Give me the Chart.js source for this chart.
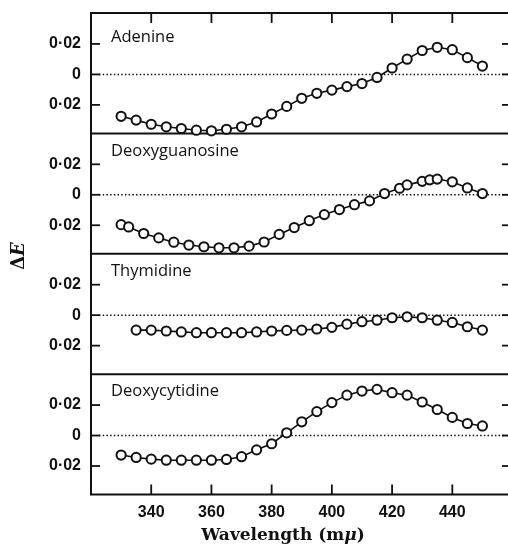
<!DOCTYPE html>
<html><head><meta charset="utf-8">
<script src="https://cdn.jsdelivr.net/npm/chart.js@4.4.1/dist/chart.umd.min.js"></script>
<style>html,body{margin:0;padding:0;background:#fff}#wrap{width:508px;height:550px;position:relative}</style>
</head><body><div id="wrap"><canvas id="c" width="508" height="550"></canvas></div>
<script>
const panelNames = ['Adenine', 'Deoxyguanosine', 'Thymidine', 'Deoxycytidine'];
const adenineX = [330,335,340,345,350,355,360,365,370,375,380,385,390,395,400,405,410,415,420,425,430,435,440,445,450];
const adenineY = [-0.0275,-0.030,-0.0327,-0.0344,-0.0355,-0.0366,-0.037,-0.036,-0.0344,-0.0312,-0.026,-0.021,-0.0157,-0.0124,-0.0103,-0.008,-0.006,-0.002,0.0042,0.010,0.0157,0.0178,0.0162,0.011,0.0055];
const dguanX = [330,332.5,337.5,342.5,347.5,352.5,357.5,362.5,367.5,372.5,377.5,382.5,387.5,392.5,397.5,402.5,407.5,412.5,417.5,422.5,425,430,432.5,435,440,445,450];
const dguanY = [-0.0196,-0.0211,-0.0254,-0.0283,-0.0311,-0.033,-0.0341,-0.0348,-0.0348,-0.0337,-0.031,-0.026,-0.0215,-0.017,-0.013,-0.0097,-0.0065,-0.004,0.0008,0.0043,0.0065,0.0088,0.0098,0.0103,0.0085,0.0045,0.0008];
const thymX = [335,340,345,350,355,360,365,370,375,380,385,390,395,400,405,410,415,420,425,430,435,440,445,450];
const thymY = [-0.0098,-0.0098,-0.0104,-0.011,-0.0115,-0.0115,-0.0115,-0.0115,-0.011,-0.0104,-0.010,-0.0098,-0.0091,-0.008,-0.0059,-0.0043,-0.0033,-0.0017,-0.0011,-0.0017,-0.0033,-0.0048,-0.0076,-0.0098];
const dcytX = [330,335,340,345,350,355,360,365,370,375,380,385,390,395,400,405,410,415,420,425,430,435,440,445,450];
const dcytY = [-0.0128,-0.0144,-0.0155,-0.0162,-0.0162,-0.0162,-0.0162,-0.0157,-0.0139,-0.0094,-0.0054,0.0018,0.009,0.0157,0.0216,0.0265,0.0292,0.0303,0.0281,0.0265,0.022,0.0171,0.0119,0.0079,0.0063];
const xTicks = [340, 360, 380, 400, 420, 440];
const yTicks = [-0.02, 0, 0.02];
const yTickLabels = ['0·02', '0', '0·02'];
const xTitleParts = ['Wavelength (m', 'μ', ')'];
const yTitleParts = ['Δ', 'E'];

const axisIds = ['yA', 'yG', 'yT', 'yC'];
const seriesX = [adenineX, dguanX, thymX, dcytX];
const seriesY = [adenineY, dguanY, thymY, dcytY];
const INK = '#111';

function yScale(i) {
  return {
    type: 'linear', position: 'left', stack: 'panels', stackWeight: 1, weight: 10 - i,
    min: -0.0387, max: 0.0403, offset: false,
    grid: { display: false, drawTicks: false },
    border: { display: false },
    ticks: {
      color: INK, padding: 10, font: { family: '"Liberation Sans", Arial, sans-serif', size: 16, weight: 'bold', lineHeight: 0.3 },
      callback: v => { const k = yTicks.indexOf(v); return k >= 0 ? yTickLabels[k] : ''; }
    },
    afterBuildTicks: s => { s.ticks = yTicks.map(v => ({ value: v })); },
    afterFit: s => { s.width = 91; }
  };
}

const scales = {
  x: {
    type: 'linear', position: 'bottom', min: 320, max: 458.5,
    grid: { display: false, drawTicks: false },
    border: { display: false },
    ticks: { color: INK, padding: 8, font: { family: '"Liberation Sans", Arial, sans-serif', size: 16, weight: 'bold' } },
    afterBuildTicks: s => { s.ticks = xTicks.map(v => ({ value: v })); },
    afterFit: s => { s.height = 55.5; },
    title: { display: false }
  }
};
axisIds.forEach((id, i) => { scales[id] = yScale(i); });

const datasets = axisIds.map((id, i) => ({
  label: panelNames[i],
  yAxisID: id,
  data: seriesX[i].map((x, j) => ({ x: x, y: seriesY[i][j] })),
  borderColor: INK, borderWidth: 1.6,
  pointRadius: 4.6, pointBorderWidth: 2, pointBackgroundColor: '#fff', pointBorderColor: INK,
  pointHoverRadius: 4.6, tension: 0, clip: false, fill: false
}));

const labelOffsets = [28.5, 22.5, 22, 21.5];

const deco = {
  id: 'deco',
  beforeDatasetsDraw(chart) {
    const { ctx, chartArea: ca, scales: sc } = chart;
    ctx.save();
    ctx.strokeStyle = INK;
    ctx.lineWidth = 1.5; ctx.setLineDash([1.5, 2.2]);
    axisIds.forEach(id => {
      const y = sc[id].getPixelForValue(0);
      ctx.beginPath(); ctx.moveTo(ca.left + 8, y); ctx.lineTo(ca.right, y); ctx.stroke();
    });
    ctx.setLineDash([]);
    ctx.lineWidth = 2;
    const tops = axisIds.map(id => sc[id].top);
    const bottoms = axisIds.map(id => sc[id].bottom);
    const ys = [...tops, Math.max(...bottoms)];
    ys.forEach(y => { ctx.beginPath(); ctx.moveTo(ca.left - 1, y); ctx.lineTo(ca.right, y); ctx.stroke(); });
    ctx.beginPath(); ctx.moveTo(ca.left, ca.top); ctx.lineTo(ca.left, ca.bottom); ctx.stroke();
    ctx.lineWidth = 1.8;
    axisIds.forEach(id => {
      yTicks.forEach(v => {
        const y = sc[id].getPixelForValue(v);
        ctx.beginPath(); ctx.moveTo(ca.left, y); ctx.lineTo(ca.left + 9, y); ctx.stroke();
        ctx.beginPath(); ctx.moveTo(ca.right - 6, y); ctx.lineTo(ca.right, y); ctx.stroke();
      });
    });
    xTicks.forEach(v => {
      const x = sc.x.getPixelForValue(v);
      ctx.beginPath(); ctx.moveTo(x, ca.top); ctx.lineTo(x, ca.top + 10); ctx.stroke();
      ctx.beginPath(); ctx.moveTo(x, ca.bottom); ctx.lineTo(x, ca.bottom - 10); ctx.stroke();
    });
    ctx.restore();
  },
  afterDraw(chart) {
    const { ctx, scales: sc } = chart;
    ctx.save();
    ctx.fillStyle = INK;
    ctx.textAlign = 'left'; ctx.textBaseline = 'alphabetic';
    ctx.font = '16.5px "Open Sans", sans-serif';
    axisIds.forEach((id, i) => {
      ctx.fillText(panelNames[i], 111, sc[id].top + labelOffsets[i]);
    });
    const fu = 'bold 17px "DejaVu Serif", serif';
    const fi = 'italic bold 17px "DejaVu Serif", serif';
    const fonts = [fu, fi, fu];
    const widths = xTitleParts.map((t, k) => { ctx.font = fonts[k]; return ctx.measureText(t).width; });
    const total = widths.reduce((a, b) => a + b, 0);
    let tx = 283 - total / 2;
    ctx.textBaseline = 'middle';
    xTitleParts.forEach((t, k) => { ctx.font = fonts[k]; ctx.fillText(t, tx, 536); tx += widths[k]; });
    ctx.translate(19, 256);
    ctx.rotate(-Math.PI / 2);
    const f1 = 'bold 18px "DejaVu Serif", serif';
    const f2 = 'italic bold 18px "DejaVu Serif", serif';
    ctx.font = f1; const w1 = ctx.measureText(yTitleParts[0]).width;
    ctx.font = f2; const w2 = ctx.measureText(yTitleParts[1]).width;
    const x0 = -(w1 + w2) / 2;
    ctx.font = f1; ctx.fillText(yTitleParts[0], x0, 0);
    ctx.font = f2; ctx.fillText(yTitleParts[1], x0 + w1, 0);
    ctx.restore();
  }
};

new Chart(document.getElementById('c'), {
  type: 'line',
  data: { datasets },
  options: {
    responsive: false, animation: false, devicePixelRatio: 1,
    layout: { autoPadding: false, padding: { top: 13, left: 0, right: 0, bottom: 0 } },
    plugins: { legend: { display: false }, tooltip: { enabled: false }, title: { display: false } },
    scales
  },
  plugins: [deco]
});
</script>
</body></html>
